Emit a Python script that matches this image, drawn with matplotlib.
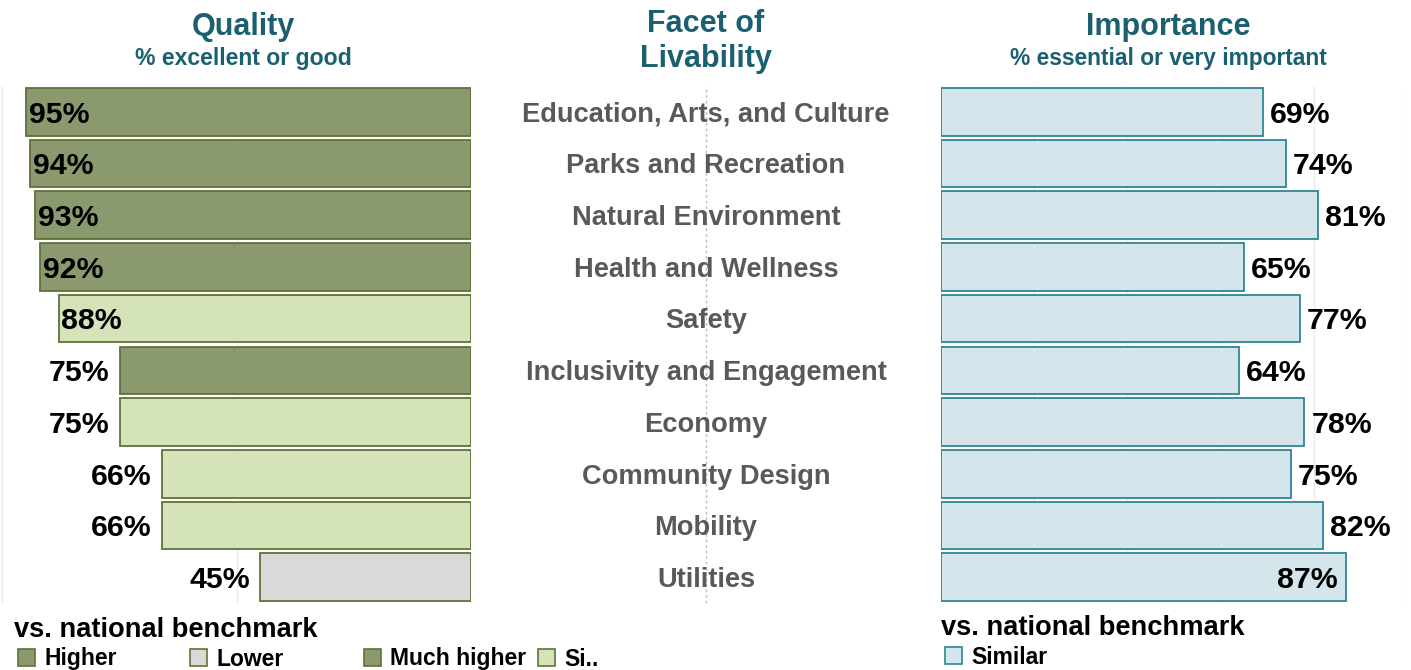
import matplotlib
matplotlib.use("Agg")
import matplotlib.pyplot as plt
from matplotlib.patches import Rectangle

plt.rcParams['font.family'] = ['Liberation Sans', 'DejaVu Sans']
plt.rcParams['font.weight'] = 'bold'

facets = ["Education, Arts, and Culture", "Parks and Recreation", "Natural Environment",
          "Health and Wellness", "Safety", "Inclusivity and Engagement", "Economy",
          "Community Design", "Mobility", "Utilities"]
quality = [95, 94, 93, 92, 88, 75, 75, 66, 66, 45]
quality_bench = ["Much higher", "Much higher", "Much higher", "Higher", "Similar",
                 "Higher", "Similar", "Similar", "Similar", "Lower"]
importance = [69, 74, 81, 65, 77, 64, 78, 75, 82, 87]
importance_bench = ["Similar"] * 10

left_legend = ["Higher", "Lower", "Much higher", "Si.."]
right_legend = ["Similar"]

fill = {"Much higher": "#8a9a6e", "Higher": "#8a9a6e", "Similar": "#d5e3b9",
        "Si..": "#d5e3b9", "Lower": "#d9dad8"}
edge_green = "#5f7238"
imp_fill = "#d4e6eb"
imp_edge = "#2e8596"
teal = "#1b6070"
grey = "#595959"

W, H = 1411, 670
fig = plt.figure(figsize=(W / 100, H / 100), dpi=100)

def fx(px):
    return px / W

def fy(py):
    return 1 - py / H

bottom = fy(603)
height = 517 / H
axL = fig.add_axes([fx(0), bottom, fx(471), height])
axC = fig.add_axes([fx(471), bottom, fx(470), height])
axR = fig.add_axes([fx(941), bottom, fx(466), height])

y = list(range(len(facets)))
lab_size = 21.8

# quality (left, growing leftwards)
axL.barh(y, quality, height=0.92, color=[fill[b] for b in quality_bench],
         edgecolor=edge_green, linewidth=1.3, zorder=2)
axL.set_xlim(100.5, 0)
for yi, v in zip(y, quality):
    if v > 80:
        axL.annotate(f"{v}%", (v, yi), xytext=(2, -2), textcoords="offset points",
                     ha="left", va="center", fontsize=lab_size, fontweight="bold", color="black", zorder=3)
    else:
        axL.annotate(f"{v}%", (v, yi), xytext=(-7, -2), textcoords="offset points",
                     ha="right", va="center", fontsize=lab_size, fontweight="bold", color="black", zorder=3)
axL.set_xticks([0, 50, 100])

# importance (right)
axR.barh(y, importance, height=0.92, color=imp_fill, edgecolor=imp_edge, linewidth=1.3, zorder=2)
axR.set_xlim(0, 100)
for yi, v in zip(y, importance):
    if v > 85:
        axR.annotate(f"{v}%", (v, yi), xytext=(-6, -2), textcoords="offset points",
                     ha="right", va="center", fontsize=lab_size, fontweight="bold", color="black", zorder=3)
    else:
        axR.annotate(f"{v}%", (v, yi), xytext=(5, -2), textcoords="offset points",
                     ha="left", va="center", fontsize=lab_size, fontweight="bold", color="black", zorder=3)
axR.set_xticks([0, 20, 40, 60, 80, 100])

for ax in (axL, axR):
    ax.set_ylim(9.5, -0.5)
    ax.grid(axis="x", color="#ebebeb", linewidth=1, zorder=0)
    ax.tick_params(length=0, labelbottom=False, labelleft=False)
    ax.set_yticks([])
    for s in ax.spines.values():
        s.set_visible(False)

# center labels
axC.set_xlim(0, 1)
axC.set_ylim(9.5, -0.5)
axC.axvline(0.5, color="#bdbdbd", linestyle=(0, (2, 2)), linewidth=1)
for yi, name in zip(y, facets):
    axC.annotate(name, (0.5, yi), xytext=(0, -2), textcoords="offset points",
                 ha="center", va="center", fontsize=19.6, fontweight="bold", color=grey)
axC.axis("off")

# headers
fig.text(fx(243), fy(27), "Quality", ha="center", va="center", fontsize=22, fontweight="bold", color=teal)
fig.text(fx(243), fy(59), "% excellent or good", ha="center", va="center", fontsize=16.6, fontweight="bold", color=teal)
fig.text(fx(706), fy(24), "Facet of", ha="center", va="center", fontsize=22, fontweight="bold", color=teal)
fig.text(fx(706), fy(59), "Livability", ha="center", va="center", fontsize=22, fontweight="bold", color=teal)
fig.text(fx(1168), fy(27), "Importance", ha="center", va="center", fontsize=22, fontweight="bold", color=teal)
fig.text(fx(1168), fy(59), "% essential or very important", ha="center", va="center", fontsize=16.4, fontweight="bold", color=teal)

# legends
fig.text(fx(14), fy(630), "vs. national benchmark", ha="left", va="center", fontsize=19.6, fontweight="bold", color="black")
fig.text(fx(941), fy(628), "vs. national benchmark", ha="left", va="center", fontsize=19.6, fontweight="bold", color="black")

left_x = [18, 190, 364, 538]
for px, lab in zip(left_x, left_legend):
    fig.patches.append(Rectangle((fx(px), fy(666)), fx(17), 17 / H, transform=fig.transFigure,
                                 facecolor=fill[lab], edgecolor=edge_green, linewidth=1.2))
    fig.text(fx(px + 26), fy(659), lab, ha="left", va="center", fontsize=16.5, fontweight="bold", color="black")
for lab in right_legend:
    fig.patches.append(Rectangle((fx(945), fy(664)), fx(17), 17 / H, transform=fig.transFigure,
                                 facecolor=imp_fill, edgecolor=imp_edge, linewidth=1.2))
    fig.text(fx(971), fy(658), lab, ha="left", va="center", fontsize=16.5, fontweight="bold", color="black")

fig.savefig("out.png", dpi=100)
